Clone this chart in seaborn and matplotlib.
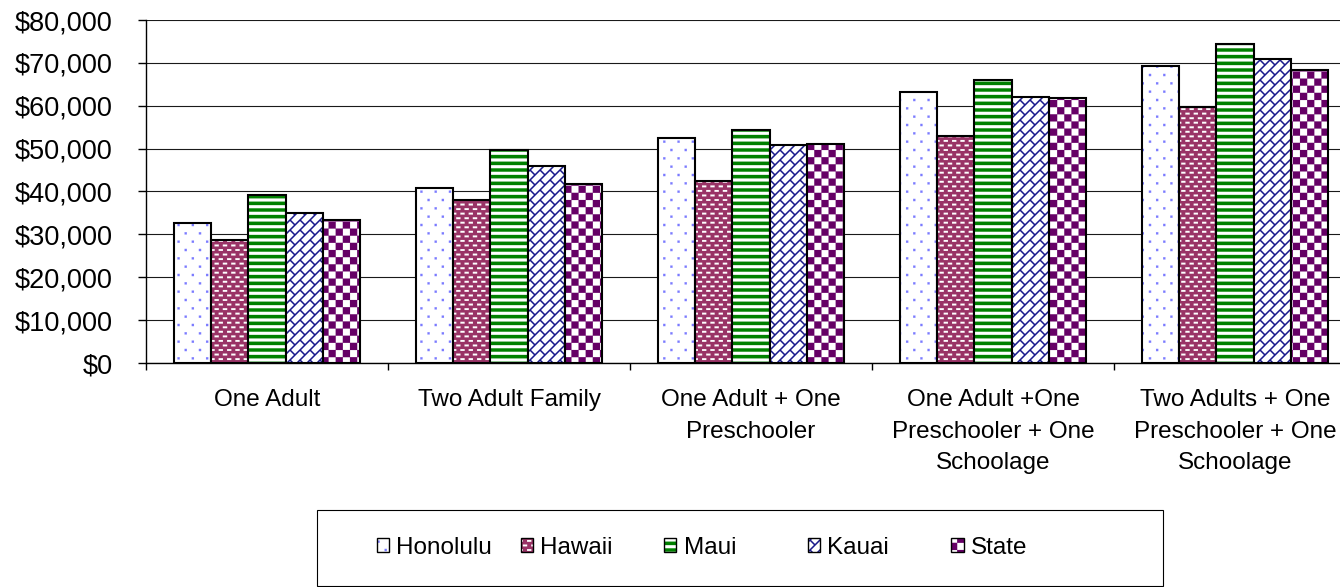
import numpy as np
import pandas as pd
import matplotlib
matplotlib.use("Agg")
import matplotlib.pyplot as plt
import matplotlib.hatch as mhatch
import matplotlib.colors as mcolors
from matplotlib.path import Path
from matplotlib.patches import Rectangle
from matplotlib.ticker import FuncFormatter, FixedLocator
import seaborn as sns

# ---------------- data ----------------
categories = [
    "One Adult",
    "Two Adult Family",
    "One Adult + One\nPreschooler",
    "One Adult +One\nPreschooler + One\nSchoolage",
    "Two Adults + One\nPreschooler + One\nSchoolage",
]
regions = ["Honolulu", "Hawaii", "Maui", "Kauai", "State"]
honolulu = [32700, 40800, 52400, 63200, 69200]
hawaii = [28800, 38000, 42500, 52900, 59800]
maui = [39300, 49700, 54300, 66000, 74400]
kauai = [35100, 45900, 50900, 62000, 71000]
state = [33300, 41700, 51000, 61800, 68300]
y_ticks = [0, 10000, 20000, 30000, 40000, 50000, 60000, 70000, 80000]

# ---------------- styles ----------------
face_colors = {"Honolulu": "#ffffff", "Hawaii": "#993366", "Maui": "#008000",
               "Kauai": "#ffffff", "State": "#ffffff"}
hatch_codes = {"Honolulu": ".", "Hawaii": "o", "Maui": "-", "Kauai": "/", "State": "*"}
hatch_colors = {"Honolulu": "#7a7aff", "Hawaii": "#ffffff", "Maui": "#ffffff",
                "Kauai": "#1a1a8c", "State": "#660066"}


# ---------------- custom fill patterns (Excel-like) ----------------
def _ccw(poly):
    poly = np.asarray(poly, float)
    x, y = poly[:, 0], poly[:, 1]
    area = 0.5 * np.sum(x * np.roll(y, -1) - np.roll(x, -1) * y)
    return poly if area >= 0 else poly[::-1]


def _rect(x0, y0, w, h):
    return _ccw([[x0, y0], [x0 + w, y0], [x0 + w, y0 + h], [x0, y0 + h]])


def _seg(p0, p1, hw):
    p0 = np.asarray(p0, float)
    p1 = np.asarray(p1, float)
    d = p1 - p0
    d = d / np.hypot(*d)
    n = np.array([-d[1], d[0]]) * hw
    return _ccw([p0 + n, p1 + n, p1 - n, p0 - n])


def _pattern_polys(h):
    polys = []
    if "." in h:  # sparse staggered dots
        nc, nr, s = 7, 12, 0.022
        for r in range(-1, nr + 2):
            off = 0.5 / nc if r % 2 else 0.0
            for c in range(-1, nc + 2):
                x, y = c / nc + off, r / nr
                polys.append(_rect(x - s / 2, y - s / 2, s, s))
    if "o" in h:  # small staggered dashes
        nc, nr, w, hh = 12, 22, 0.042, 0.018
        for r in range(-1, nr + 2):
            off = 0.5 / nc if r % 2 else 0.0
            for c in range(-1, nc + 2):
                x, y = c / nc + off, r / nr
                polys.append(_rect(x - w / 2, y - hh / 2, w, hh))
    if "-" in h:  # horizontal stripes
        n, t = 15, 0.03
        for i in range(-1, n + 2):
            polys.append(_rect(-0.1, i / n - t / 2, 1.2, t))
    if "/" in h:  # diagonal brick
        d, e, hw = 0.1, 0.2, 0.007
        ks = range(-13, 13)
        for k in ks:
            c = k * d
            polys.append(_seg((-0.3 + c, -0.3), (1.3 + c, 1.3), hw))
        for k in ks:
            c0, c1 = k * d, (k + 1) * d
            for m in range(-3, 14):
                s = (m + 0.5 * (k % 2)) * e
                p0 = np.array([(s + c0) / 2, (s - c0) / 2])
                p1 = np.array([(s + c1) / 2, (s - c1) / 2])
                u = (p1 - p0) / np.hypot(*(p1 - p0))
                polys.append(_seg(p0 + u * hw, p1 - u * hw, hw))
    if "*" in h:  # checkerboard
        n = 14
        for i in range(-1, n + 1):
            for j in range(-1, n + 1):
                if (i + j) % 2 == 0:
                    polys.append(_rect(i / n, j / n, 1 / n, 1 / n))
    return polys


class _ExcelHatch(mhatch.HatchPatternBase):
    def __init__(self, hatch, density):
        self.polys = _pattern_polys(hatch or "")
        self.num_vertices = sum(len(p) + 1 for p in self.polys)

    def set_vertices_and_codes(self, vertices, codes):
        i = 0
        for p in self.polys:
            n = len(p)
            vertices[i:i + n] = p
            vertices[i + n] = p[0]
            codes[i] = Path.MOVETO
            codes[i + 1:i + n] = Path.LINETO
            codes[i + n] = Path.CLOSEPOLY
            i += n + 1


mhatch._hatch_types[:] = [_ExcelHatch]


def set_hatch_color(patch, color):
    if hasattr(patch, "set_hatchcolor"):
        patch.set_hatchcolor(color)
    else:
        patch._hatch_color = mcolors.to_rgba(color)


# ---------------- figure ----------------
sns.set_style("white")
plt.rcParams["font.family"] = ["Liberation Sans", "DejaVu Sans"]
plt.rcParams["hatch.linewidth"] = 0.1
plt.rcParams["text.color"] = "black"
plt.rcParams["xtick.color"] = "black"
plt.rcParams["ytick.color"] = "black"
plt.rcParams["xtick.labelcolor"] = "black"
plt.rcParams["ytick.labelcolor"] = "black"

df = pd.DataFrame({
    "category": np.repeat(categories, len(regions)),
    "region": regions * len(categories),
    "value": np.column_stack([honolulu, hawaii, maui, kauai, state]).ravel(),
})

W, H = 1340, 587
fig = plt.figure(figsize=(W / 100, H / 100), dpi=100)
ax = fig.add_axes([146 / W, 1 - 363 / H, 1210 / W, 343 / H])

sns.barplot(data=df, x="category", y="value", hue="region", order=categories,
            hue_order=regions, palette=face_colors, width=0.77, gap=0,
            saturation=1, edgecolor="black", linewidth=1.5, errorbar=None,
            legend=False, ax=ax)

for region, cont in zip(regions, ax.containers):
    for p in cont.patches:
        p.set_hatch(hatch_codes[region])
        set_hatch_color(p, hatch_colors[region])

ax.set_xlim(-0.5, 4.5)
ax.set_ylim(0, 80000)
ax.set_yticks(y_ticks)
ax.yaxis.set_major_formatter(FuncFormatter(lambda v, pos: f"${v:,.0f}"))
ax.tick_params(axis="y", direction="out", length=6, width=1, pad=18,
               labelsize=19.5, color="black", labelcolor="black", left=True)
ax.set_xticks(range(len(categories)))
ax.set_xticklabels(categories, fontsize=17.5, linespacing=1.55, color="black")
ax.xaxis.set_minor_locator(FixedLocator(np.arange(-0.5, len(categories) + 0.5, 1)))
ax.tick_params(axis="x", which="major", length=0, pad=19)
ax.tick_params(axis="x", which="minor", length=5, width=1, direction="out",
               color="black", bottom=True)
ax.set_xlabel("")
ax.set_ylabel("")
ax.yaxis.grid(True, color="#1a1a1a", linewidth=0.8)
ax.xaxis.grid(False)
ax.set_axisbelow(True)
for side in ("top", "right"):
    ax.spines[side].set_visible(False)
for side in ("left", "bottom"):
    ax.spines[side].set_color("black")
    ax.spines[side].set_linewidth(1.0)

# ---------------- legend (equal-width columns, framed) ----------------
leg_x0, leg_step, leg_y = 377, 143.6, 548
for i, (region, cont) in enumerate(zip(regions, ax.containers)):
    lg = fig.legend(handles=[cont.patches[0]], labels=[region], loc="center left",
                    bbox_to_anchor=((leg_x0 + i * leg_step) / W, 1 - leg_y / H),
                    frameon=False, handlelength=0.5, handleheight=0.5,
                    handletextpad=0.3, borderpad=0, borderaxespad=0,
                    fontsize=17.5, labelcolor="black")
    for hnd in lg.legend_handles:
        hnd.set_linewidth(1.0)
fig.add_artist(Rectangle((317 / W, 1 - 586 / H), 846 / W, 76 / H,
                         transform=fig.transFigure, fill=False,
                         edgecolor="black", linewidth=0.8))

fig.savefig("out.png", dpi=100)
